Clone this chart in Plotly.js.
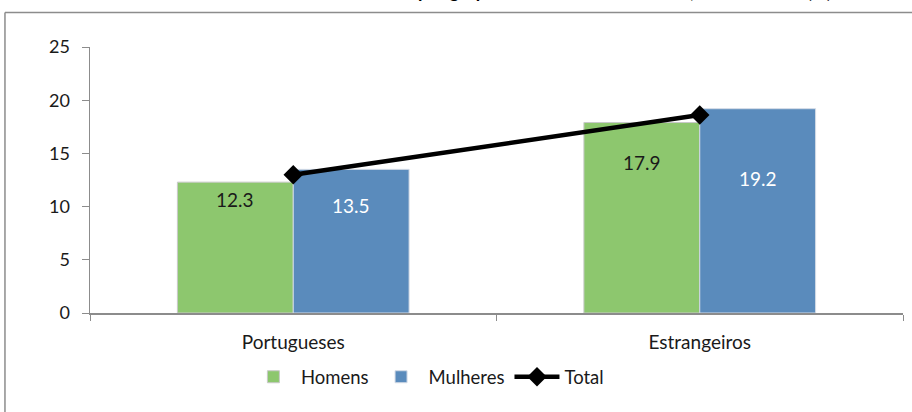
<!DOCTYPE html>
<html>
<head>
<meta charset="utf-8">
<script src="https://cdn.plot.ly/plotly-3.0.1.min.js"></script>
<style>html,body{margin:0;padding:0;background:#fff;}#chart{width:912px;height:412px;}</style>
</head>
<body>
<div id="chart"></div>
<script>
const categories = ["Portugueses", "Estrangeiros"];
const homens = [12.3, 17.9];
const mulheres = [13.5, 19.2];
const total = [13.0, 18.6];
const yTicks = [0, 5, 10, 15, 20, 25];
const titleText = "Taxa de abandono por grupo de nacionalidade e sexo, Censos 2011 (%)";

const FONT = "Lato, 'Open Sans', sans-serif";
const green = "#8DC76E";
const blue = "#5A8BBC";

const traces = [
  {type: "bar", name: "Homens", x: categories, y: homens,
   marker: {color: green, line: {color: "#c9c9c9", width: 1}}, hoverinfo: "skip"},
  {type: "bar", name: "Mulheres", x: categories, y: mulheres,
   marker: {color: blue, line: {color: "#d4dbe6", width: 1}}, hoverinfo: "skip"},
  {type: "scatter", mode: "lines+markers", name: "Total", x: categories, y: total,
   line: {color: "#000", width: 4.5}, marker: {symbol: "diamond", size: 15, color: "#000"}, hoverinfo: "skip"}
];

// data labels (position offsets kept separate from data)
const labelShiftY = [[-17, -40], [-36, -70]];
const labelShiftX = [-58, 58];
const labelColors = ["#1a1a1a", "#ffffff"];
const annotations = [];
[homens, mulheres].forEach((series, s) => {
  series.forEach((v, i) => {
    annotations.push({x: categories[i], y: v, xref: "x", yref: "y", text: v.toFixed(1),
      showarrow: false, xshift: labelShiftX[s], yshift: labelShiftY[s][i], yanchor: "middle",
      font: {family: FONT, size: 19, color: labelColors[s]}});
  });
});
annotations.push({text: "<b>" + titleText + "</b>", xref: "paper", yref: "paper", x: 0.567, y: 1.162,
  xanchor: "center", yanchor: "bottom", showarrow: false, font: {family: FONT, size: 18, color: "#000"}});

const layout = {
  width: 912, height: 412,
  margin: {l: 90, r: 9, t: 46.5, b: 99},
  paper_bgcolor: "#fff", plot_bgcolor: "#fff",
  showlegend: true,
  barmode: "group", bargap: 0.43, bargroupgap: 0,
  font: {family: FONT, size: 16, color: "#1a1a1a"},
  xaxis: {type: "category", showline: true, linecolor: "#8c8c8c", linewidth: 1.5,
    ticks: "outside", tickson: "boundaries", ticklen: 6, tickcolor: "#8c8c8c", ticklabelstandoff: 12,
    tickfont: {family: FONT, size: 19, color: "#1a1a1a"}, showgrid: false, zeroline: false},
  yaxis: {range: [0, 25], tickvals: yTicks, showline: true, linecolor: "#8c8c8c", linewidth: 1.5,
    ticks: "outside", ticklen: 7, tickcolor: "#8c8c8c", ticklabelstandoff: 8, showgrid: false, zeroline: false,
    tickfont: {family: FONT, size: 18, color: "#1a1a1a"}},
  legend: {orientation: "h", x: 0.415, xanchor: "center", y: -0.17, yanchor: "top",
    font: {family: FONT, size: 18.5, color: "#1a1a1a"}, itemwidth: 45, tracegroupgap: 0},
  annotations: annotations,
  shapes: [
    {type: "line", xref: "paper", yref: "paper", x0: -0.1046, x1: 1.03, y0: 1.1295, y1: 1.1295,
     line: {color: "#8c8c8c", width: 1.5}},
    {type: "line", xref: "paper", yref: "paper", x0: -0.1046, x1: -0.1046, y0: 1.1295, y1: -0.4,
     line: {color: "#8c8c8c", width: 1.5}}
  ]
};

Plotly.newPlot("chart", traces, layout, {staticPlot: true, displayModeBar: false});
</script>
</body>
</html>
